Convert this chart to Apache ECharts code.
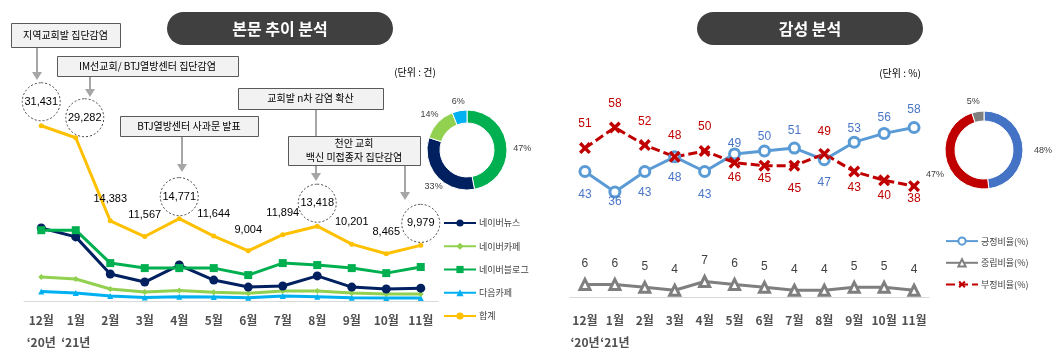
<!DOCTYPE html>
<html><head><meta charset="utf-8">
<script src="https://cdn.jsdelivr.net/npm/echarts@6/dist/echarts.min.js"></script>
<style>html,body{margin:0;padding:0;background:#fff}#c{width:1056px;height:357px}</style>
</head><body><div id="c"></div>
<script>
// ---- data ----
const months = ['12월','1월','2월','3월','4월','5월','6월','7월','8월','9월','10월','11월'];
const years = ['\u201820년','\u201821년','','','','','','','','','',''];
const naverNews = [13100,11500,4850,3400,6450,3750,2500,2700,4500,2500,2150,2300];
const naverCafe = [4300,3950,2150,1600,1900,1550,1400,1800,1800,1450,1250,1250];
const naverBlog = [12700,12700,6800,5900,5900,5900,4650,6800,6450,5900,5000,6100];
const daumCafe = [1700,1450,900,650,750,700,600,900,750,600,550,550];
const total = [31431,29282,14383,11567,14771,11644,9004,11894,13418,10201,8465,9979];
const circled = [true,true,false,false,true,false,false,false,true,false,false,true];
const shareNames = ['네이버블로그','네이버뉴스','네이버카페','다음카페'];
const shareValues = [47,33,14,6];
const positive = [43,36,43,48,43,49,50,51,47,53,56,58];
const neutral = [6,6,5,4,7,6,5,4,4,5,5,4];
const negative = [51,58,52,48,50,46,45,45,49,43,40,38];
const sentimentNames = ['긍정비율(%)','부정비율(%)','중립비율(%)'];
const sentimentValues = [48,47,5];

// ---- styles ----
const FONT = '"Liberation Sans", "Noto Sans CJK KR", sans-serif';
const KFONT = '"Noto Sans CJK KR", "Liberation Sans", sans-serif';
const totalLabelOffset = [[0,-24],[9,-20],[0,-22],[0,-22],[0,-22],[0,-22],[0,-21],[0,-22],[0,-23],[0,-22],[0,-22],[0,-22]];
const posLabelDy = [23,10,21,21,23,-10,-14,-17,23,-13,-16,-18];
const negLabelDy = [-24,-24,-23,-21,-24,15,13,23,-22,16,15,13];
const sharePieLabelOffset = [[19,2],[-6,12],[-11,-10],[-2,-13]];
const sentPieLabelOffset = [[22,3],[-13,16],[-5,-12]];
const fmt = n => n.toLocaleString('en-US');

const chart = echarts.init(document.getElementById('c'));

function xAxisCfg(gridIndex, margin){
  return {
    type:'category', gridIndex, data: months, boundaryGap:true,
    axisLine:{lineStyle:{color:'#d9d9d9', width:1}}, axisTick:{show:false},
    axisLabel:{margin, interval:0, fontFamily:KFONT,
      formatter:(v,i)=> years[i] ? '{m|'+v+'}\n{y|'+years[i]+'}' : '{m|'+v+'}',
      rich:{m:{fontSize:12,color:'#505050',fontWeight:'bold',lineHeight:16,fontFamily:KFONT},
            y:{fontSize:12,color:'#505050',fontWeight:'bold',lineHeight:28,fontFamily:KFONT}}}
  };
}

const arrowColor = '#a6a6a6';
function arrow(x,y1,y2,head){
  const els = [{type:'line', shape:{x1:x,y1:y1,x2:x,y2: head ? y2-7 : y2}, style:{stroke:arrowColor,lineWidth:2}}];
  if(head) els.push({type:'polygon', shape:{points:[[x-5,y2-8],[x+5,y2-8],[x,y2]]}, style:{fill:arrowColor}});
  return els;
}
function box(x1,y1,x2,y2,text){
  return [
    {type:'rect', shape:{x:x1+0.5,y:y1+0.5,width:x2-x1,height:y2-y1}, style:{fill:'#f2f2f2',stroke:'#595959',lineWidth:1}},
    {type:'text', x:(x1+x2)/2, y:(y1+y2)/2, style:{text, fill:'#000', font:'10px '+KFONT, align:'center', verticalAlign:'middle', lineHeight:14}}
  ];
}
function pill(x1,x2,text){
  return [
    {type:'rect', shape:{x:x1,y:12,width:x2-x1,height:33,r:16.5}, style:{fill:'#404040'}},
    {type:'text', x:(x1+x2)/2, y:29, style:{text, fill:'#fff', font:'bold 16px '+KFONT, align:'center', verticalAlign:'middle'}}
  ];
}

const graphic = [].concat(
  pill(167,393,'본문 추이 분석'),
  pill(697,923,'감성 분석'),
  [{type:'text', x:415, y:72, style:{text:'(단위 : 건)', fill:'#000', font:'10px '+KFONT, align:'center', verticalAlign:'middle'}},
   {type:'text', x:900, y:73, style:{text:'(단위 : %)', fill:'#000', font:'10px '+KFONT, align:'center', verticalAlign:'middle'}}],
  arrow(37,47,80,true),
  arrow(90,76,97,true),
  arrow(182,136,172,true),
  arrow(316,109,136,false),
  arrow(316,165,181,true),
  arrow(405,165,200,true),
  box(11,23,120,47,'지역교회발 집단감염'),
  box(57,56,238,76,'IM선교회/ BTJ열방센터 집단감염'),
  box(120,116,258,136,'BTJ열방센터 사과문 발표'),
  box(238,88,383,109,'교회발 n차 감염 확산'),
  box(288,136,420,165,'천안 교회\n백신 미접종자 집단감염')
);

function lineSeries(name,data,color,symbol,size,extra){
  return Object.assign({
    name, type:'line', xAxisIndex:0, yAxisIndex:0, data, symbol, symbolSize:size,
    lineStyle:{width:3,color}, itemStyle:{color}, emphasis:{disabled:true}, animation:false
  }, extra||{});
}

const pieLabel = {show:true, position:'inside', formatter:'{c}%', fontSize:9, color:'#404040', fontFamily:FONT, textBorderWidth:0};

const option = {
  animation:false,
  textStyle:{fontFamily:FONT},
  graphic,
  grid:[
    {left:24, top:78, width:414, height:223},
    {left:570, top:63, width:359, height:239}
  ],
  xAxis:[xAxisCfg(0,11), xAxisCfg(1,10)],
  yAxis:[
    {type:'value', gridIndex:0, min:0, max:40000, show:false, splitLine:{show:false}},
    {type:'value', gridIndex:1, min:-1.5, max:80, show:false, splitLine:{show:false}},
    {type:'value', gridIndex:1, min:0, max:81.5, show:false, splitLine:{show:false}}
  ],
  legend:[
    {orient:'vertical', left:443, top:218.5, padding:0, itemWidth:32, itemHeight:9, itemGap:14.25,
     textStyle:{fontSize:9, color:'#404040', fontFamily:KFONT, padding:[0,0,0,-2]},
     data:['네이버뉴스','네이버카페','네이버블로그','다음카페','합계']},
    {orient:'vertical', left:945, top:236.5, padding:0, itemWidth:32, itemHeight:9, itemGap:12.5,
     textStyle:{fontSize:9, color:'#404040', fontFamily:KFONT, padding:[0,0,0,-2]},
     data:['긍정비율(%)','중립비율(%)','부정비율(%)']}
  ],
  series:[
    lineSeries('다음카페',daumCafe,'#00b0f0','triangle',6),
    lineSeries('네이버카페',naverCafe,'#92d050','diamond',6),
    lineSeries('네이버뉴스',naverNews,'#002060','circle',9),
    lineSeries('네이버블로그',naverBlog,'#00b050','rect',8),
    lineSeries('합계',total.map((v,i)=>({value:v,label:{offset:totalLabelOffset[i]}})),'#ffc000','circle',5,{
      label:{show:true, position:'inside',
        formatter:p => circled[p.dataIndex] ? '{c|'+fmt(p.value)+'}' : '{n|'+fmt(p.value)+'}',
        rich:{
          n:{fontSize:11,color:'#000',fontFamily:FONT},
          c:{fontSize:11,color:'#000',fontFamily:FONT,width:38,height:38,lineHeight:38,align:'center',
             borderRadius:20,borderColor:'#404040',borderWidth:1,borderType:[2,2]}
        }}
    }),
    {name:'긍정비율(%)', type:'line', xAxisIndex:1, yAxisIndex:1,
     data: positive.map((v,i)=>({value:v,label:{offset:[0,posLabelDy[i]]}})),
     symbol:'circle', symbolSize:10, lineStyle:{width:3,color:'#5b9bd5'},
     itemStyle:{color:'#fff', borderColor:'#5b9bd5', borderWidth:3},
     label:{show:true, position:'inside', fontSize:12, color:'#4a76c8', fontFamily:FONT},
     emphasis:{disabled:true}},
    {name:'부정비율(%)', type:'line', xAxisIndex:1, yAxisIndex:1,
     data: negative.map((v,i)=>({value:v,label:{offset:[0,negLabelDy[i]]}})),
     symbol:'path://M2,0 L5,3 L8,0 L10,2 L7,5 L10,8 L8,10 L5,7 L2,10 L0,8 L3,5 L0,2 Z', symbolSize:12,
     lineStyle:{width:3,color:'#c00000',type:[9,4]},
     itemStyle:{color:'#c00000'},
     label:{show:true, position:'inside', fontSize:12, color:'#c00000', fontFamily:FONT},
     emphasis:{disabled:true}},
    {name:'중립비율(%)', type:'line', xAxisIndex:1, yAxisIndex:2,
     data: neutral.map(v=>({value:v,label:{offset:[0,-21]}})),
     symbol:'triangle', symbolSize:10, lineStyle:{width:3,color:'#7f7f7f'},
     itemStyle:{color:'#fff', borderColor:'#7f7f7f', borderWidth:3},
     label:{show:true, position:'inside', fontSize:12, color:'#404040', fontFamily:FONT},
     emphasis:{disabled:true}},
    {type:'pie', center:[467,150], radius:[27,40], startAngle:90, clockwise:true,
     avoidLabelOverlap:false, silent:true, legendHoverLink:false,
     itemStyle:{borderColor:'#fff', borderWidth:1},
     color:['#00b050','#002060','#92d050','#00b0f0'],
     label:pieLabel, labelLine:{show:false},
     data: shareNames.map((n,i)=>({name:n+' ', value:shareValues[i], label:{offset:sharePieLabelOffset[i]}}))},
    {type:'pie', center:[984,150], radius:[29,39], startAngle:90, clockwise:true,
     avoidLabelOverlap:false, silent:true, legendHoverLink:false,
     itemStyle:{borderColor:'#fff', borderWidth:1},
     color:['#4472c4','#c00000','#7f7f7f'],
     label:pieLabel, labelLine:{show:false},
     data: sentimentNames.map((n,i)=>({name:n+' ', value:sentimentValues[i], label:{offset:sentPieLabelOffset[i]}}))}
  ]
};
chart.setOption(option);
</script>
</body></html>
